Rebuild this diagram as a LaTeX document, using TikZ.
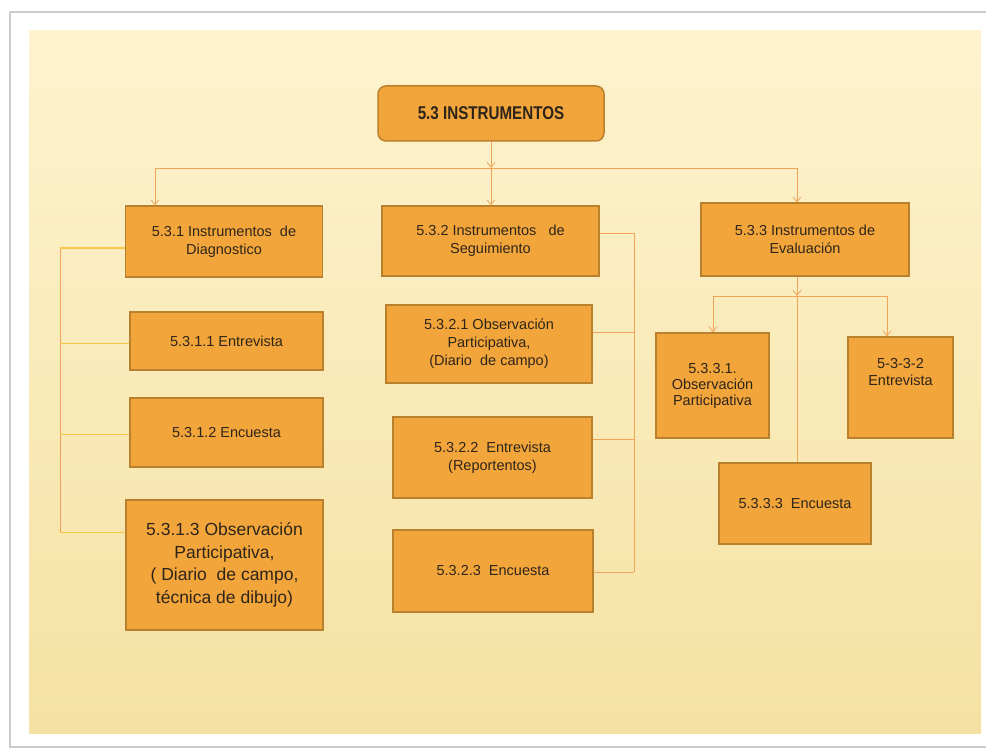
\documentclass[tikz,border=0pt]{standalone}
\usepackage{fontspec}
\setmainfont{Liberation Sans}
\newfontfamily\condfont[FakeStretch=0.82]{Liberation Sans}
\usetikzlibrary{arrows.meta}

\definecolor{boxfill}{HTML}{F2A53B}
\definecolor{boxline}{HTML}{B9802E}
\definecolor{txt}{HTML}{2E251A}
\definecolor{linkc}{HTML}{F0A458}
\definecolor{linky}{HTML}{F6C644}
\definecolor{creamtop}{HTML}{FEF3CE}
\definecolor{creammid}{HTML}{FDF0C6}
\definecolor{creambot}{HTML}{F5E1A3}

\begin{document}
\begin{tikzpicture}[x=1pt,y=-1pt,
  box/.style={rectangle,draw=boxline,line width=1.2pt,fill=boxfill,text=txt,
    align=center,inner sep=2pt,font=\fontsize{14.5}{18}\selectfont},
  link/.style={draw=linkc,line width=0.8pt},
  arr/.style={link,-{Straight Barb[length=5pt,width=8pt]}}]
  \useasboundingbox (0,0) rectangle (986,749);
  \fill[white] (0,0) rectangle (986,749);
  \draw[gray!40,line width=1.5pt] (10,12) rectangle (995,747);
  \shade[top color=creamtop,middle color=creammid,bottom color=creambot] (29,31) rectangle (981,733);

  \node[box,rounded corners=8pt,line width=1.5pt,minimum width=226,minimum height=55,
    font=\condfont\bfseries\fontsize{18.5}{20}\selectfont] (root) at (491,113.5) {5.3 INSTRUMENTOS};

  \node[box,minimum width=197,minimum height=71] (diag) at (224,241.5) {5.3.1 Instrumentos\ \ de\\Diagnostico};
  \node[box,minimum width=217,minimum height=70] (segui) at (490.5,241) {5.3.2 Instrumentos\ \ \ de\\Seguimiento};
  \node[box,minimum width=208,minimum height=73] (evalu) at (805,239.5) {5.3.3 Instrumentos de\\Evaluación};

  \node[box,minimum width=193,minimum height=58] (dentr) at (226.5,341) {5.3.1.1 Entrevista};
  \node[box,minimum width=193,minimum height=69] (dencu) at (226.5,432.5) {5.3.1.2 Encuesta};
  \node[box,minimum width=197,minimum height=130,font=\fontsize{17.5}{22.5}\selectfont] (dobse) at (224.5,565)
    {5.3.1.3 Observación\\Participativa,\\( Diario\ \ de campo,\\técnica de dibujo)};

  \node[box,minimum width=206,minimum height=78] (sobse) at (489,344) {5.3.2.1 Observación\\Participativa,\\(Diario\ \ de campo)};
  \node[box,minimum width=199,minimum height=81] (sentr) at (492.5,457.5) {5.3.2.2\ \ Entrevista\\(Reportentos)};
  \node[box,minimum width=200,minimum height=82] (sencu) at (493,571) {5.3.2.3\ \ Encuesta};

  \node[box,minimum width=113,minimum height=105,font=\fontsize{14.5}{16}\selectfont] (eobse) at (712.5,385.5) {5.3.3.1.\\Observación\\Participativa};
  \node[box,minimum width=105,minimum height=101,font=\fontsize{14.5}{17}\selectfont] (eentr) at (900.5,387.5) {5-3-3-2\\Entrevista\\[14pt]};
  \node[box,minimum width=152,minimum height=81] (eencu) at (795,503.5) {5.3.3.3\ \ Encuesta};

  \coordinate (bus) at (491,168);
  \coordinate (busl) at (155,168);
  \coordinate (busr) at (797,168);
  \draw[arr] (root) -- (bus);
  \draw[link] (busl) -- (busr);
  \draw[arr] (busl) -- (busl |- diag.north);
  \draw[arr] (bus) -- (bus |- segui.north);
  \draw[arr] (busr) -- (busr |- evalu.north);

  \coordinate (lt) at (60,248);
  \coordinate (lb) at (60,532);
  \draw[link] (lt) -- (lb);
  \draw[linky,line width=2pt] (lt) -- (lt -| diag.west);
  \draw[linky] ([yshift=-2]dentr.west) -- ([yshift=-2]dentr.west -| lt);
  \draw[linky] ([yshift=-2]dencu.west) -- ([yshift=-2]dencu.west -| lt);
  \draw[linky] (lb) -- (lb -| dobse.west);

  \coordinate (rt) at (634,233);
  \coordinate (rb) at (634,572);
  \draw[link] (rt) -- (rb);
  \draw[link] (rt) -- (rt -| segui.east);
  \draw[link] ([yshift=12]sobse.east) -- ([yshift=12]sobse.east -| rt);
  \draw[link] ([yshift=18.5]sentr.east) -- ([yshift=18.5]sentr.east -| rt);
  \draw[link] (rb) -- (rb -| sencu.east);

  \coordinate (ebus) at (797,296);
  \coordinate (ebl) at (713,296);
  \coordinate (ebr) at (887,296);
  \draw[arr] (evalu.south -| ebus) -- (ebus);
  \draw[link] (ebl) -- (ebr);
  \draw[arr] (ebl) -- (ebl |- eobse.north);
  \draw[arr] (ebr) -- (ebr |- eentr.north);
  \draw[link] (ebus) -- (ebus |- eencu.north);
\end{tikzpicture}
\end{document}
